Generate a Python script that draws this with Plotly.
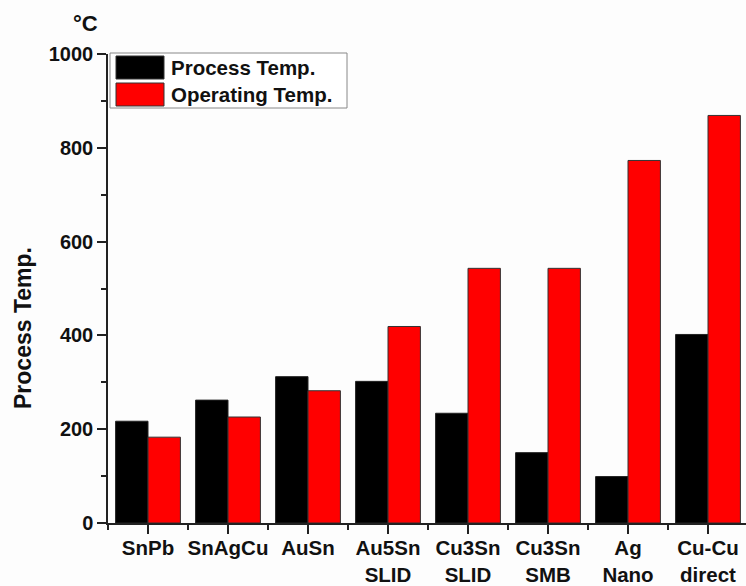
import plotly.graph_objects as go

categories = ["SnPb", "SnAgCu", "AuSn", "Au5Sn<br>SLID", "Cu3Sn<br>SLID",
              "Cu3Sn<br>SMB", "Ag<br>Nano", "Cu-Cu<br>direct"]
process_name = "Process Temp."
operating_name = "Operating Temp."
process_temp = [217, 262, 312, 302, 234, 150, 99, 402]
operating_temp = [183, 226, 282, 419, 543, 543, 773, 869]

FONT = "Liberation Sans, Arial, sans-serif"
xpos = list(range(len(categories)))

fig = go.Figure()
fig.add_trace(go.Bar(x=xpos, y=process_temp, name=process_name,
                     marker=dict(color="#000000", line=dict(color="#222222", width=1)),
                     showlegend=False))
fig.add_trace(go.Bar(x=xpos, y=operating_temp, name=operating_name,
                     marker=dict(color="#ff0000", line=dict(color="#333333", width=1)),
                     showlegend=False))

fig.update_layout(
    width=746, height=586,
    margin=dict(l=108, r=0, t=54, b=63),
    paper_bgcolor="#fdfdfd", plot_bgcolor="#fdfdfd",
    barmode="group", bargap=0.19, bargroupgap=0,
    font=dict(family=FONT, color="#111111"),
)
fig.update_xaxes(
    range=[-0.5, 7.475], tickvals=xpos, ticktext=categories,
    tickfont=dict(size=20.5, family=FONT, weight="bold", color="#111111"),
    ticks="outside", ticklen=9, tickwidth=1.5, tickcolor="#222222",
    ticklabelstandoff=-3,
    minor=dict(tick0=0.5, dtick=1, ticks="outside", ticklen=5, tickwidth=1.5, tickcolor="#222222"),
    showline=True, linecolor="#222222", linewidth=1.5,
    showgrid=False, zeroline=False, automargin=False,
)
fig.update_yaxes(
    range=[0, 1000], dtick=200,
    tickfont=dict(size=20, family=FONT, weight="bold", color="#111111"),
    ticks="outside", ticklen=9, tickwidth=1.5, tickcolor="#222222",
    minor=dict(dtick=100, ticks="outside", ticklen=5, tickwidth=1.5, tickcolor="#222222"),
    showline=True, linecolor="#222222", linewidth=1.5,
    showgrid=False, zeroline=False, automargin=False,
)

# axis title and unit
fig.add_annotation(text="<b>Process Temp.</b>", xref="paper", yref="paper",
                   x=(23 - 108) / 638, y=(523 - 328) / 469, xanchor="center", yanchor="middle",
                   textangle=-90, showarrow=False,
                   font=dict(size=23, family=FONT, color="#111111"))
fig.add_annotation(text="<b>°C</b>", xref="paper", yref="paper",
                   x=(85 - 108) / 638, y=(523 - 24) / 469, xanchor="center", yanchor="middle",
                   showarrow=False, font=dict(size=22, family=FONT, color="#111111"))

# custom legend
pw, ph = 638, 469
def px(x):
    return (x - 108) / pw
def py(y):
    return (523 - y) / ph

fig.add_shape(type="rect", xref="paper", yref="paper",
              x0=px(110), x1=px(347), y0=py(108), y1=py(53),
              line=dict(color="#888888", width=1), fillcolor="#ffffff")
for (y0, y1, col, name) in [(56, 79, "#000000", process_name), (83, 106, "#ff0000", operating_name)]:
    fig.add_shape(type="rect", xref="paper", yref="paper",
                  x0=px(116), x1=px(164), y0=py(y1), y1=py(y0),
                  line=dict(color="#333333", width=1), fillcolor=col)
    fig.add_annotation(text="<b>%s</b>" % name, xref="paper", yref="paper",
                       x=px(169), y=py((y0 + y1) / 2), xanchor="left", yanchor="middle",
                       showarrow=False, font=dict(size=20.5, family=FONT, color="#111111"))

fig.write_html("out.html", config={"displayModeBar": False},
               post_script="document.body.style.margin='0';document.body.style.overflow='hidden';")
